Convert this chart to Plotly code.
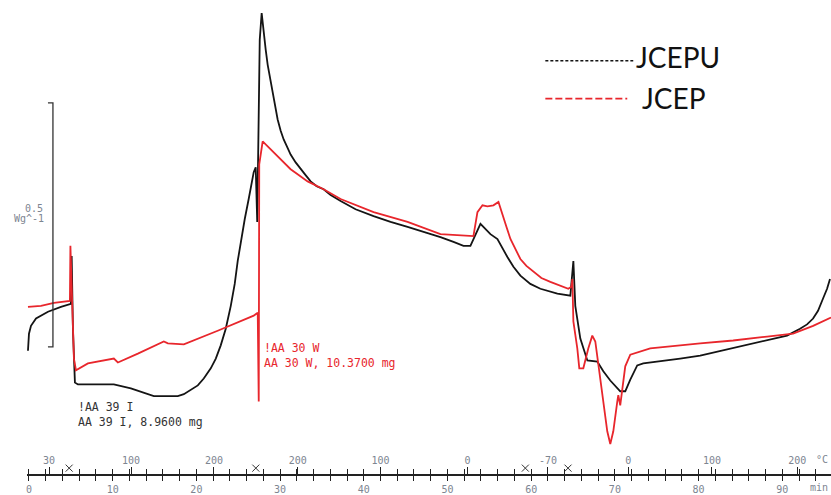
import plotly.graph_objects as go

# ---------------- data (time in min, heat flow in W/g, arbitrary offset) ----------------
jcepu_t = [-0.12, 0.0, 0.24, 0.84, 2.27, 3.82, 5.01, 5.10, 5.25, 5.49, 5.85, 10.14, 12.17, 14.92,
           17.78, 18.50, 20.17, 20.88, 21.72, 22.32, 22.91, 23.51, 24.11, 24.58, 24.94, 25.30,
           25.78, 26.25, 26.61, 26.85, 27.09, 27.27, 27.39, 27.57, 27.80, 28.04, 28.28, 28.52,
           28.88, 29.12, 29.47, 29.71, 30.07, 30.43, 30.91, 31.26, 31.86, 32.46, 33.05, 33.65,
           34.37, 35.20, 36.04, 37.23, 39.02, 41.17, 43.20, 45.23, 49.16, 50.72, 51.91, 52.74,
           53.10, 53.58, 53.94, 55.13, 55.97, 57.16, 57.88, 58.71, 59.90, 61.10, 63.13, 64.68,
           65.04, 65.27, 65.87, 66.71, 67.90, 68.62, 69.45, 70.64, 71.24, 71.84, 72.67, 73.39,
           75.42, 77.80, 80.19, 84.13, 88.19, 90.57, 92.12, 92.96, 93.68, 94.27, 94.87, 95.35,
           95.70]
jcepu_hf = [0.022, 0.057, 0.073, 0.088, 0.102, 0.112, 0.118, 0.216, 0.067, -0.043, -0.047, -0.047,
            -0.055, -0.071, -0.071, -0.067, -0.049, -0.035, -0.014, 0.006, 0.033, 0.067, 0.114,
            0.159, 0.206, 0.245, 0.292, 0.333, 0.363, 0.388, 0.398, 0.286, 0.435, 0.659, 0.714,
            0.673, 0.639, 0.608, 0.573, 0.547, 0.516, 0.496, 0.473, 0.455, 0.437, 0.424, 0.408,
            0.394, 0.382, 0.369, 0.359, 0.353, 0.341, 0.329, 0.312, 0.298, 0.286, 0.276, 0.255,
            0.245, 0.237, 0.237, 0.251, 0.271, 0.282, 0.261, 0.251, 0.214, 0.194, 0.176, 0.159,
            0.149, 0.139, 0.135, 0.206, 0.114, 0.047, 0.002, 0.000, -0.020, -0.039, -0.061,
            -0.061, -0.037, -0.008, -0.004, 0.000, 0.006, 0.012, 0.027, 0.043, 0.053, 0.067,
            0.076, 0.088, 0.104, 0.129, 0.149, 0.169]

jcep_t = [-0.12, 1.43, 2.98, 4.89, 4.95, 5.13, 5.37, 5.61, 7.04, 10.14, 10.62, 13.01, 16.11, 16.59,
          18.50, 22.55, 26.85, 27.33, 27.45, 27.51, 27.92, 28.40, 29.24, 30.07, 31.26, 32.22,
          33.29, 35.20, 37.23, 41.17, 45.23, 49.16, 53.10, 53.58, 54.18, 54.77, 55.49, 56.09,
          56.68, 57.04, 57.52, 58.11, 58.71, 59.43, 60.26, 61.22, 62.29, 64.44, 64.80, 64.92,
          65.04, 65.51, 65.75, 66.23, 66.83, 67.30, 67.66, 68.02, 68.50, 69.09, 69.45, 69.81,
          70.29, 70.41, 70.64, 70.88, 71.24, 71.84, 74.22, 80.19, 84.13, 88.19, 91.29, 93.68,
          95.82]
jcep_hf = [0.112, 0.114, 0.120, 0.124, 0.237, 0.129, 0.006, -0.018, -0.004, 0.006, -0.002, 0.016,
           0.041, 0.037, 0.035, 0.063, 0.094, 0.100, -0.082, 0.404, 0.451, 0.443, 0.429, 0.414,
           0.394, 0.382, 0.369, 0.353, 0.333, 0.306, 0.286, 0.261, 0.257, 0.306, 0.320, 0.318,
           0.320, 0.327, 0.298, 0.276, 0.251, 0.229, 0.210, 0.196, 0.184, 0.171, 0.163, 0.149,
           0.153, 0.169, 0.082, 0.027, -0.014, -0.014, 0.027, 0.053, 0.041, -0.008, -0.069,
           -0.143, -0.169, -0.143, -0.082, -0.069, -0.090, -0.061, -0.010, 0.014, 0.027, 0.037,
           0.043, 0.051, 0.057, 0.073, 0.090]

time_ticks = [0, 10, 20, 30, 40, 50, 60, 70, 80, 90]
temp_tick_t = [2.4, 12.2, 22.1, 32.1, 42.0, 52.4, 62.0, 71.6, 81.6, 91.8]
temp_tick_text = ["30", "100", "200", "200", "100", "0", "-70", "0", "100", "200"]
segment_t = [4.8, 27.1, 59.3, 64.4]

scale_bar_bottom = 0.03
scale_bar_value = 0.5

# ---------------- layout constants ----------------
W, H = 831, 495
B = 19
PH = H - B
Y_MIN, Y_MAX = -0.2306, 0.7408
X_RANGE = [-0.24, 95.82]
X_DOMAIN = [26 / W, 1]

BLACK = "#141414"
RED = "#e8262c"
GRAY = "#7d8591"
MONO = "DejaVu Sans Mono"


def px(x):
    return x / W


def py(y):
    return 1 - y / PH


fig = go.Figure()
fig.add_trace(go.Scatter(x=jcepu_t, y=jcepu_hf, mode="lines", name="JCEPU",
                         line=dict(color=BLACK, width=1.8), showlegend=False))
fig.add_trace(go.Scatter(x=jcep_t, y=jcep_hf, mode="lines", name="JCEP",
                         line=dict(color=RED, width=1.8), showlegend=False))
fig.add_trace(go.Scatter(x=segment_t, y=[Y_MIN + 0.012] * len(segment_t), xaxis="x2",
                         mode="markers", cliponaxis=False, showlegend=False, hoverinfo="skip",
                         marker=dict(symbol="x-thin-open", size=7, color="#333",
                                     line=dict(color="#333", width=1))))

fig.update_layout(
    width=W, height=H,
    margin=dict(l=0, r=0, t=0, b=B),
    paper_bgcolor="white", plot_bgcolor="white",
    showlegend=False,
    xaxis=dict(range=X_RANGE, domain=X_DOMAIN, anchor="y", showgrid=False, zeroline=False,
               showline=True, linecolor="#222", linewidth=1.5,
               ticks="outside", ticklen=5, tickcolor="#222", tickwidth=1.2,
               tickvals=time_ticks, tickfont=dict(family=MONO, size=10, color=GRAY),
               minor=dict(ticks="outside", ticklen=5, dtick=2, tick0=0, tickcolor="#222",
                          tickwidth=1.2, showgrid=False)),
    xaxis2=dict(range=X_RANGE, domain=X_DOMAIN, anchor="y", overlaying="x", side="bottom",
                showgrid=False, zeroline=False, showline=False,
                ticks="inside", ticklen=7, tickcolor="#222", tickwidth=1.2,
                tickvals=temp_tick_t, ticktext=temp_tick_text, ticklabelposition="inside",
                tickfont=dict(family=MONO, size=10, color=GRAY),
                minor=dict(ticks="inside", ticklen=5, dtick=2, tick0=0, tickcolor="#222",
                           tickwidth=1.2, showgrid=False)),
    yaxis=dict(range=[Y_MIN, Y_MAX], visible=False, fixedrange=True),
)

# scale bar (length = 0.5 W/g on the y scale)
xb = px(52)
xt = px(47)
fig.add_shape(type="path", xref="paper", yref="y",
              path=f"M {xt},{scale_bar_bottom} L {xb},{scale_bar_bottom} "
                   f"L {xb},{scale_bar_bottom + scale_bar_value} L {xt},{scale_bar_bottom + scale_bar_value}",
              line=dict(color="#333", width=1.3))

ann = []
ann.append(dict(x=px(44), y=py(209), text="0.5", xanchor="right", yanchor="middle",
                font=dict(family=MONO, size=10, color=GRAY)))
ann.append(dict(x=px(45), y=py(219), text="Wg^-1", xanchor="right", yanchor="middle",
                font=dict(family=MONO, size=10, color=GRAY)))
ann.append(dict(x=px(75), y=py(416), text="!AA 39 I<br>AA 39 I, 8.9600 mg", xanchor="left",
                yanchor="middle", align="left",
                font=dict(family=MONO, size=11.5, color="#333")))
ann.append(dict(x=px(261), y=py(357), text="!AA 30 W<br>AA 30 W, 10.3700 mg", xanchor="left",
                yanchor="middle", align="left",
                font=dict(family=MONO, size=11.5, color=RED)))
ann.append(dict(x=px(830), y=py(490), text="min", xanchor="right", yanchor="middle",
                font=dict(family=MONO, size=10, color=GRAY)))
ann.append(dict(x=px(830), y=py(461), text="°C", xanchor="right", yanchor="middle",
                font=dict(family=MONO, size=10, color=GRAY)))
# legend
ann.append(dict(x=px(634), y=py(57), text="JCEPU", xanchor="left", yanchor="middle",
                font=dict(family="Lato", size=28, color="#111")))
ann.append(dict(x=px(640), y=py(98), text="JCEP", xanchor="left", yanchor="middle",
                font=dict(family="Lato", size=28, color="#111")))
for a in ann:
    a.update(xref="paper", yref="paper", showarrow=False)
fig.update_layout(annotations=ann)

fig.add_shape(type="line", xref="paper", yref="paper", x0=px(545), x1=px(633), y0=py(61), y1=py(61),
              line=dict(color=BLACK, width=1.6, dash="3px,2px"))
fig.add_shape(type="line", xref="paper", yref="paper", x0=px(545), x1=px(627), y0=py(99), y1=py(99),
              line=dict(color=RED, width=1.8, dash="7px,3px"))

fig.write_html("out.html")
